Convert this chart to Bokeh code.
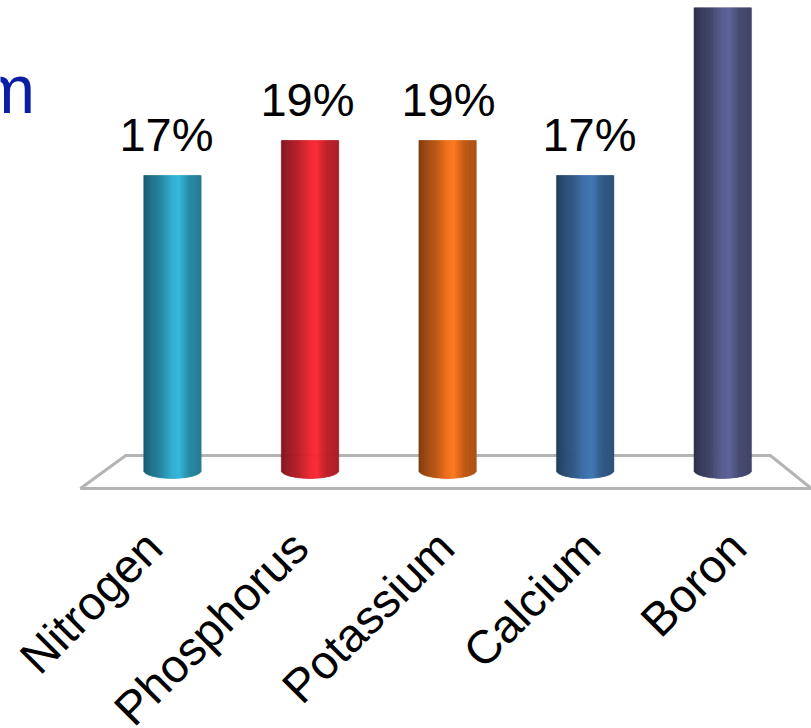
import numpy as np
from bokeh.embed import file_html
from bokeh.models import ColumnDataSource, Range1d
from bokeh.plotting import figure
from bokeh.resources import INLINE
from bokeh.core.properties import value

# Chart data
nutrients = ["Nitrogen", "Phosphorus", "Potassium", "Calcium", "Boron"]
shares = [17, 19, 19, 17, 28]
labelled = [True, True, True, True, False]
base_colors = ["#38b8dc", "#fa2a36", "#ff7a22", "#4379b6", "#5f6498"]

WIDTH, HEIGHT = 811, 728
BAR_WIDTH = 0.415
STRIPS = 57

# Brightness across a cylinder, from its left edge to its right edge
shade_u = [0.0, 0.12, 0.30, 0.50, 0.62, 0.80, 1.0]
shade_k = [0.50, 0.62, 0.74, 0.95, 1.0, 0.76, 0.68]


def shaded(hex_color, k):
    rgb = [int(hex_color[i:i + 2], 16) for i in (1, 3, 5)]
    return "#%02x%02x%02x" % tuple(int(min(255, c * k)) for c in rgb)


p = figure(
    width=WIDTH, height=HEIGHT, output_backend="svg", toolbar_location=None,
    x_range=Range1d(-1.25, 4.645), y_range=Range1d(-14.6, 26.6),
    min_border_left=0, min_border_right=0, min_border_top=7, min_border_bottom=0,
    outline_line_color=None, background_fill_color="white", border_fill_color="white",
)
p.grid.visible = False
p.axis.visible = False

# Floor plate under the cylinders
p.patch(
    x=[-0.669, -0.34, 4.346, 4.645], y=[-0.886, 1.0, 1.0, -0.886],
    fill_color="white", fill_alpha=1.0, line_color="#b4b4b4", line_width=3,
    level="underlay",
)

# Cylinders, built from narrow overlapping strips with a curved lower end
xs, tops, bottoms, colors = [], [], [], []
for i, (share, base) in enumerate(zip(shares, base_colors)):
    for j in range(STRIPS):
        u = (j + 0.5) / STRIPS
        t = 2 * u - 1
        xs.append(i + t * BAR_WIDTH / 2)
        tops.append(share)
        bottoms.append(0.14 - 0.45 * np.sqrt(1 - t * t))
        colors.append(shaded(base, float(np.interp(u, shade_u, shade_k))))

p.vbar(
    x="x", top="top", bottom="bottom", width=1.5 * BAR_WIDTH / STRIPS,
    fill_color="color", fill_alpha=1.0, line_color="color", line_alpha=1.0, line_width=0.4,
    source=ColumnDataSource(dict(x=xs, top=tops, bottom=bottoms, color=colors)),
)

# Value labels above the cylinders
shown = [i for i, flag in enumerate(labelled) if flag]
p.text(
    x=[-0.044 + 1.025 * i for i in shown], y=[shares[i] for i in shown],
    text=[f"{shares[i]}%" for i in shown],
    text_font=value("Liberation Sans"), text_font_size="47px", text_color="#000000",
    text_align="center", text_baseline="bottom", y_offset=-15,
)

# Remaining end of the heading at the upper left
p.text(
    x=[-1.25], y=[19.79], text=["m"], text_font=value("Liberation Sans"),
    text_font_size="68px", text_color="#0a1fa5", text_align="left",
    text_baseline="bottom", x_offset=-22,
)

# Slanted category names below the floor
name_x = [-0.273 + 1.061 * i for i in range(len(nutrients))]
p.text(
    x=name_x, y=[-2.71] * len(nutrients), text=nutrients,
    angle=np.pi / 4, text_font=value("Liberation Sans"), text_font_size="47px",
    text_color="#000000", text_align="right", text_baseline="top",
)

open("out.html", "w").write(file_html(p, INLINE))
